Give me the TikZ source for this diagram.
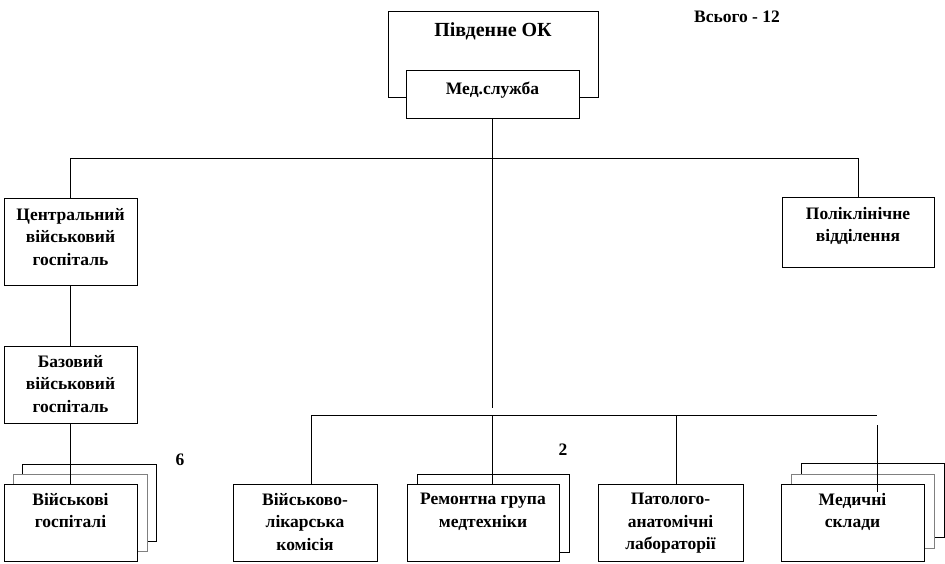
\documentclass[tikz,border=0pt]{standalone}
\usepackage{fontspec}
\setmainfont{Liberation Serif}
\usetikzlibrary{positioning}

\tikzset{
  unit/.style={draw, fill=white, line width=1pt, inner sep=0pt},
  midunit/.style={unit, draw=gray},
  utext/.style={anchor=north, align=center, inner sep=0pt, yshift=-9.5pt,
    font=\bfseries\fontsize{17.5}{22.5}\selectfont},
  note/.style={inner sep=0pt, font=\bfseries\fontsize{17.5}{22.5}\selectfont},
  link/.style={line width=1pt},
}

\begin{document}
\begin{tikzpicture}[x=1pt, y=-1pt]
\useasboundingbox (0,0) rectangle (945,564);

% top
\node[unit, minimum width=210, minimum height=86] (pivd) at (493,55) {};
\node[utext, font=\bfseries\fontsize{20}{24}\selectfont, yshift=-1.5pt] (pivdt) at (pivd.north) {Південне ОК};
\node[unit, minimum width=173, minimum height=48] (med) at (492.5,95) {};
\node[utext, yshift=-1.5pt] (medt) at (med.north) {Мед.служба};
\node[note] (total) at (737,17) {Всього - 12};

% left column
\node[unit, minimum width=133, minimum height=86] (cvg) at (70.5,242) {};
\node[utext] (cvgt) at (cvg.north) {Центральний\\військовий\\госпіталь};
\node[unit, minimum width=133, minimum height=77] (bvg) at (70.5,384.5) {};
\node[utext] (bvgt) at (bvg.north) {Базовий\\військовий\\госпіталь};

\node[unit, minimum width=134, minimum height=77] (vgb) at (89,502.5) {};
\node[midunit, minimum width=134, minimum height=77] (vgm) at (80,512.5) {};
\node[unit, minimum width=133, minimum height=77] (vg) at (70.5,522.5) {};
\node[utext] (vgt) at (vg.north) {Військові\\госпіталі};
\node[note] (six) at (180,460) {6};

% right
\node[unit, minimum width=152, minimum height=69] (polik) at (858,232.5) {};
\node[utext] (polikt) at (polik.north) {Поліклінічне\\відділення};

% bottom row
\node[unit, minimum width=144, minimum height=77] (vlk) at (305,522.5) {};
\node[utext] (vlkt) at (vlk.north) {Військово-\\лікарська\\комісія};

\node[unit, minimum width=152, minimum height=78] (remb) at (493,513) {};
\node[unit, minimum width=152, minimum height=77] (rem) at (483,522.5) {};
\node[utext] (remt) at (rem.north) {Ремонтна група\\медтехніки};
\node[note] (two) at (563,450) {2};

\node[unit, minimum width=145, minimum height=77] (pat) at (670.5,522.5) {};
\node[utext] (patt) at (pat.north) {Патолого-\\анатомічні\\лабораторії};

\node[unit, minimum width=143, minimum height=74] (mskb) at (872.5,500) {};
\node[midunit, minimum width=143, minimum height=74] (mskm) at (862.5,511) {};
\node[unit, minimum width=143, minimum height=77] (msk) at (852.5,522.5) {};
\node[utext] (mskt) at (msk.north) {Медичні\\склади};

% connectors
\coordinate (stem) at (492.5,408);
\coordinate (bl) at (311,415);
\coordinate (bm) at (492.5,415);
\coordinate (bp) at (676,415);
\coordinate (br) at (877,415);
\coordinate (mt) at (877,425);

\draw[link] (med.south) -- (stem);
\draw[link] (cvg.north) -- ++(0,-40) -| (polik.north);
\draw[link] (cvg.south) -- (bvg.north);
\draw[link] (bvg.south) -- (vg.north);
\draw[link] (bl) -- (br);
\draw[link] (bl) -- (bl |- vlk.north);
\draw[link] (bm) -- (bm |- rem.north);
\draw[link] (bp) -- (bp |- pat.north);
\draw[link] (mt) -- ([yshift=-8pt]mt |- msk.north);
\end{tikzpicture}
\end{document}
